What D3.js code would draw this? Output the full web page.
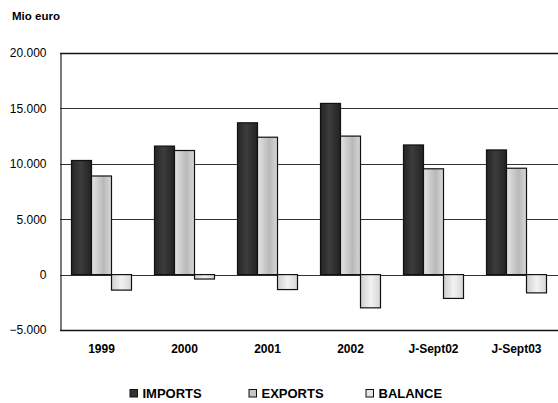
<!DOCTYPE html>
<html>
<head>
<meta charset="utf-8">
<script src="https://cdn.jsdelivr.net/npm/d3@7"></script>
<style>
  body { margin: 0; background: #fff; }
  svg { display: block; font-family: "Liberation Sans", Arial, sans-serif; }
</style>
</head>
<body>
<svg id="chart" width="558" height="403"></svg>
<script>
// Trade figures, million euro
const categories = ["1999", "2000", "2001", "2002", "J-Sept02", "J-Sept03"];
const imports = [10300, 11600, 13700, 15450, 11700, 11250];
const exports = [8900, 11200, 12400, 12500, 9550, 9600];
const balance = [-1400, -400, -1350, -3000, -2150, -1650];
const seriesNames = ["IMPORTS", "EXPORTS", "BALANCE"];
const yTicks = [-5000, 0, 5000, 10000, 15000, 20000];

const svg = d3.select("#chart");
const margin = { left: 60, right: 0, top: 53, bottom: 73 };
const W = 558, H = 403;

const x = d3.scaleBand().domain(categories).range([margin.left, W - margin.right]).paddingInner(0).paddingOuter(0);
const x1 = d3.scaleBand().domain(seriesNames).range([0, 60]);
const y = d3.scaleLinear().domain([-5000, 20000]).range([H - margin.bottom, margin.top]);

const fmt = d => d === 0 ? "0" : d3.format(",")(d).replace(/,/g, ".");

// gradients for the bar fills
const defs = svg.append("defs");
function grad(id, stops) {
  const g = defs.append("linearGradient").attr("id", id).attr("x1", "0").attr("x2", "1").attr("y1", "0").attr("y2", "0");
  stops.forEach(([o, c]) => g.append("stop").attr("offset", o).attr("stop-color", c));
}
grad("gImp", [[0, "#252525"], [0.45, "#3c3c3c"], [1, "#222"]]);
grad("gExp", [[0, "#e4e4e4"], [0.6, "#b9b9b9"], [1, "#d8d8d8"]]);
grad("gBal", [[0, "#cfcfcf"], [0.5, "#f2f2f2"], [1, "#d6d6d6"]]);
const fills = { IMPORTS: "url(#gImp)", EXPORTS: "url(#gExp)", BALANCE: "url(#gBal)" };
const legendFills = { IMPORTS: "#333", EXPORTS: "#c4c4c4", BALANCE: "#e6e6e6" };

// gridlines
svg.append("g").selectAll("line").data(yTicks).join("line")
  .attr("x1", margin.left).attr("x2", W)
  .attr("y1", d => Math.round(y(d)) + 0.5).attr("y2", d => Math.round(y(d)) + 0.5)
  .attr("stroke", d => (d === 20000 || d === -5000) ? "#111" : "#333")
  .attr("stroke-width", d => (d === 20000 || d === -5000) ? 1.5 : 1);

// y axis
const yAxis = d3.axisLeft(y).tickValues(yTicks).tickFormat(fmt).tickSize(0).tickPadding(14);
const ga = svg.append("g").attr("transform", `translate(${margin.left + 0.5},0)`).call(yAxis);
ga.select(".domain").attr("stroke", "#222").attr("stroke-width", 1.2);
ga.selectAll("text").attr("font-size", 12).attr("fill", "#000");

// bars
const rows = categories.map((c, i) => ({ c, vals: [imports[i], exports[i], balance[i]] }));
const groups = svg.append("g").selectAll("g").data(rows).join("g")
  .attr("transform", d => `translate(${x(d.c) + (x.bandwidth() - 60) / 2},0)`);
groups.selectAll("rect").data(d => d.vals.map((v, k) => ({ s: seriesNames[k], v })))
  .join("rect")
  .attr("x", d => x1(d.s))
  .attr("width", x1.bandwidth())
  .attr("y", d => y(Math.max(0, d.v)))
  .attr("height", d => Math.abs(y(d.v) - y(0)))
  .attr("fill", d => fills[d.s])
  .attr("stroke", "#111").attr("stroke-width", 1.2);

// category labels
const gx = svg.append("g").attr("transform", `translate(0,${y(-5000) + 14})`)
  .call(d3.axisBottom(x).tickSize(0).tickPadding(0));
gx.select(".domain").remove();
gx.selectAll("text").attr("font-size", 12).attr("font-weight", "bold").attr("fill", "#000");

// unit label
svg.append("text").attr("x", 12).attr("y", 20).attr("font-size", 11.5).attr("font-weight", "bold").text("Mio euro");

// legend
const legendX = [130, 249, 366];
const lg = svg.append("g").selectAll("g").data(seriesNames).join("g")
  .attr("transform", (d, i) => `translate(${legendX[i]},389)`);
lg.append("rect").attr("width", 7.5).attr("height", 7.5).attr("y", 0.5)
  .attr("fill", d => legendFills[d]).attr("stroke", "#111").attr("stroke-width", 1);
lg.append("text").attr("x", 12.5).attr("y", 8.8).attr("font-size", 13).attr("font-weight", "bold").text(d => d);
</script>
</body>
</html>
